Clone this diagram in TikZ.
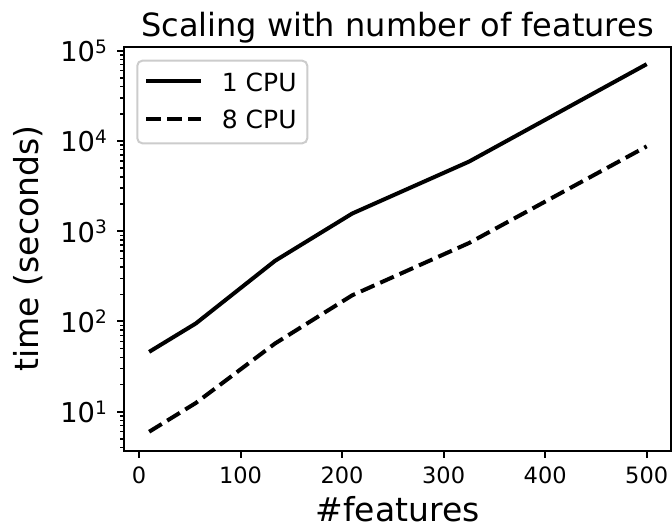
\documentclass[tikz,border=0pt]{standalone}
\usepackage{fontspec}
\setmainfont{DejaVu Sans}
\usetikzlibrary{positioning}
\tikzset{
  spine/.style={line width=2pt, black},
  majtick/.style={line width=2pt, black},
  mintick/.style={line width=1.5pt, black},
  onecpu/.style={line width=4pt, black, line join=round},
  eightcpu/.style={line width=4pt, black, dash pattern=on 14.8pt off 6.4pt},
  xlab/.style={font=\fontsize{22.5}{22.5}\selectfont, inner sep=0pt, anchor=base},
  ylab/.style={font=\fontsize{27.3}{27.3}\selectfont, inner sep=0pt, anchor=east},
  bigtext/.style={font=\fontsize{33}{33}\selectfont, inner sep=0pt, anchor=base},
  legtext/.style={font=\fontsize{25}{25}\selectfont, inner sep=0pt, anchor=base west},
  legframe/.style={draw=black!20, line width=2pt, rounded corners=5pt, fill=white,
    minimum width=170pt, minimum height=82.6pt, inner sep=0pt}
}

\begin{document}
\begin{tikzpicture}[x=1pt,y=-1pt,
  declare function={fx(\f)=139+1.0154*\f; ty(\l)=411.7-90.25*(\l-1);}]
    \useasboundingbox (0,0) rectangle (672,528);
    % curves (time given as log10 of seconds)
    \draw [onecpu] ({fx(10)},{ty(1.663)}) -- ({fx(56)},{ty(1.978)}) -- ({fx(134)},{ty(2.672)})
      -- ({fx(210)},{ty(3.196)}) -- ({fx(325)},{ty(3.771)}) -- ({fx(500)},{ty(4.851)});
    \draw [eightcpu] ({fx(10)},{ty(0.778)}) -- ({fx(56)},{ty(1.097)}) -- ({fx(134)},{ty(1.756)})
      -- ({fx(210)},{ty(2.290)}) -- ({fx(325)},{ty(2.869)}) -- ({fx(500)},{ty(3.940)});
    % axes
    \draw [spine] (124,47) rectangle (671.2,450.5);
    \foreach \f in {0,100,...,500} {
      \draw [majtick] ({fx(\f)},450.5) -- ({fx(\f)},458);
      \node [xlab] (xt\f) at ({fx(\f)},483.3) {\f};
    }
    \foreach \e in {1,...,5} {
      \draw [majtick] (124,{ty(\e)}) -- (116.5,{ty(\e)});
      \node [ylab] (yt\e) at (107,{ty(\e)}) {10\raisebox{8.3pt}{\fontsize{18.5}{18.5}\selectfont\e}};
    }
    \foreach \k in {4,...,9}
      \draw [mintick] (124,{ty(log10(\k))}) -- (119.5,{ty(log10(\k))});
    \foreach \e in {1,...,4}
      \foreach \k in {2,...,9}
        \draw [mintick] (124,{ty(\e+log10(\k))}) -- (119.5,{ty(\e+log10(\k))});
    % labels
    \node [bigtext, font=\fontsize{32}{32}\selectfont] (title) at (397.5,36) {Scaling with number of features};
    \node [bigtext] (xaxis) at (397.5,521.3) {\#features};
    \node [bigtext, rotate=90] (yaxis) at (38.3,248.5) {time (seconds)};
    % legend
    \node [legframe] (legend) at (222.3,102) {};
    \draw [onecpu] (146,81) -- (200.7,81);
    \draw [eightcpu] (146,119.3) -- (201,119.3);
    \node [legtext] (one) at (221.7,91) {1 CPU};
    \node [legtext] (eight) at (221.7,128.3) {8 CPU};
\end{tikzpicture}
\end{document}
